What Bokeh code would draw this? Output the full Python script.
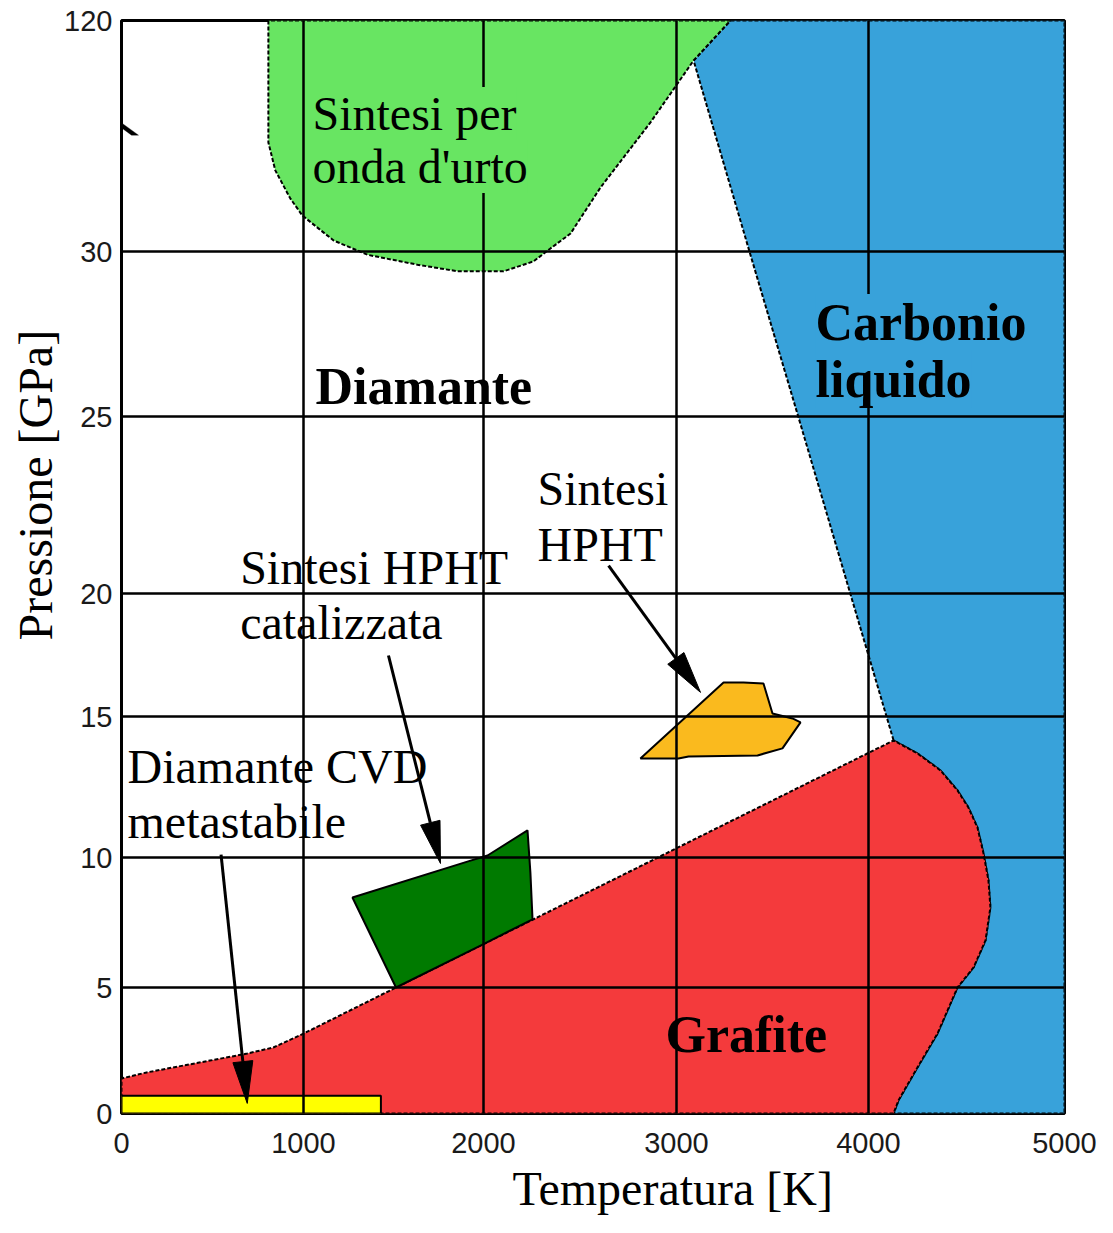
import numpy as np
from bokeh.plotting import figure
from bokeh.models import Range1d, FixedTicker, Title, PolyAnnotation
from bokeh.core.properties import value
from bokeh.embed import file_html
from bokeh.resources import INLINE

# ---------------------------------------------------------------------------
# Axis layout. Neither axis is evenly spaced (the pressure axis jumps from
# 30 to 120 GPa), so each gridline value is tied to a position on the
# 943 x 1093 px frame and everything in between is interpolated.
# ---------------------------------------------------------------------------
T_TICKS = [0, 1000, 2000, 3000, 4000, 5000]          # K
T_SLOTS = [0, 182, 362, 555, 747, 943]
P_TICKS = [0, 5, 10, 15, 20, 25, 30, 120]            # GPa
P_SLOTS = [0, 126, 256, 397, 520, 697, 862, 1093]

def tx(t):
    return np.interp(t, T_TICKS, T_SLOTS)

def py(p):
    return np.interp(p, P_TICKS, P_SLOTS)

# ---------------------------------------------------------------------------
# Phase boundaries (temperature K, pressure GPa)
# ---------------------------------------------------------------------------
# graphite / liquid melting curve, from 0 GPa up to the triple point
melt_T = [4128, 4153, 4250, 4352, 4454, 4536, 4597, 4622, 4612, 4587,
          4556, 4510, 4454, 4367, 4250, 4128]
melt_P = [0.0, 0.52, 1.83, 3.17, 5.0, 5.77, 6.81, 8.08, 9.12, 10.14,
          11.06, 11.77, 12.38, 13.09, 13.69, 14.15]

# diamond / liquid boundary, from the triple point upwards
dl_T = [4128, 4092, 3905, 3634, 3380, 3089]
dl_P = [14.15, 15.0, 20.0, 25.0, 30.0, 104.4]

# graphite / diamond boundary, from the triple point down to 0 K
gd_T = [4128, 4000, 3000, 2904, 2000, 1514, 1000, 834, 691, 486, 138, 0]
gd_P = [14.15, 13.71, 10.33, 10.0, 6.67, 5.0, 3.17, 2.62, 2.38, 2.10, 1.63, 1.39]

# shock-wave synthesis region
shock_T = [807, 807, 845, 928, 994, 1167, 1356, 1633, 1856, 2104, 2259,
           2347, 2451, 2606, 2865, 3089, 3281]
shock_P = [120, 72.5, 61.6, 50.6, 44.0, 34.3, 29.9, 29.6, 29.4, 29.4, 29.7,
           31.2, 37.0, 54.9, 80.3, 104.4, 120]

# catalysed HPHT synthesis region
cat_T = [1272, 1928, 2021, 2228, 2243, 2254, 2000, 1514]
cat_P = [8.46, 9.88, 10.07, 10.96, 9.42, 7.62, 6.67, 5.0]

# HPHT synthesis region
hpht_T = [2813, 3245, 3349, 3453, 3500, 3604, 3646, 3552, 3422, 3063, 3010]
hpht_P = [13.51, 16.38, 16.38, 16.34, 15.12, 14.93, 14.79, 13.87, 13.62, 13.58, 13.51]

# metastable CVD diamond band
cvd_T = [0, 1430]
cvd_P = [0, 0.7]

# callout arrows: tail (T, P) -> tip (T, P)
arrow_tail_T = [2648, 1472, 547]
arrow_tail_P = [20.79, 17.48, 10.1]
arrow_tip_T = [3125, 1761, 691]
arrow_tip_P = [15.98, 9.77, 0.40]

# plot limits
T_MAX = 5000
P_MAX = 120

# ---------------------------------------------------------------------------
# Colours and fonts
# ---------------------------------------------------------------------------
C_LIQUID = "#38A2DA"
C_GRAPHITE = "#F43A3C"
C_SHOCK = "#68E562"
C_CAT = "#007A00"
C_HPHT = "#FABA1E"
C_CVD = "#FFFF00"
SERIF = "Liberation Serif"
TICK_FONT = "Liberation Sans"

W_FRAME = int(tx(T_MAX))
H_FRAME = int(py(P_MAX))

p = figure(width=1113, height=1233, output_backend="svg", toolbar_location=None,
           x_range=Range1d(0, W_FRAME), y_range=Range1d(0, H_FRAME),
           min_border_left=121, min_border_right=49,
           min_border_top=20, min_border_bottom=120,
           background_fill_color="white", border_fill_color="white")

p.outline_line_color = "black"
p.outline_line_width = 3

# gridlines sit above the coloured regions but below labels and arrows
p.xgrid.ticker = FixedTicker(ticks=T_SLOTS)
p.ygrid.ticker = FixedTicker(ticks=P_SLOTS)
for g in (p.xgrid, p.ygrid):
    g.grid_line_color = "black"
    g.grid_line_width = 2.5
    g.grid_line_alpha = 1.0
    g.level = "underlay"

p.xaxis.ticker = FixedTicker(ticks=T_SLOTS)
p.xaxis.major_label_overrides = {s: str(t) for s, t in zip(T_SLOTS, T_TICKS)}
p.yaxis.ticker = FixedTicker(ticks=P_SLOTS)
p.yaxis.major_label_overrides = {s: str(v) for s, v in zip(P_SLOTS, P_TICKS)}
for ax in (p.xaxis, p.yaxis):
    ax.axis_line_color = None
    ax.major_tick_line_color = None
    ax.minor_tick_line_color = None
    ax.major_tick_out = 0
    ax.major_label_text_font = TICK_FONT
    ax.major_label_text_font_size = "29px"
    ax.major_label_text_color = "#1a1a1a"
p.xaxis.major_label_standoff = 19
p.yaxis.major_label_standoff = 9

# axis titles, placed off-centre along their axes
p.add_layout(Title(text="Temperatura [K]", align="left", offset=391,
                   text_font=SERIF, text_font_size="48px", text_font_style="normal",
                   text_color="black", standoff=13, vertical_align="top"), "below")
p.add_layout(Title(text="Pressione [GPa]", align="left", offset=473,
                   text_font=SERIF, text_font_size="48px", text_font_style="normal",
                   text_color="black", standoff=0, vertical_align="bottom"), "left")

# ---------------------------------------------------------------------------
# Phase regions
# ---------------------------------------------------------------------------
liq_T = [3281, T_MAX, T_MAX] + melt_T + dl_T[1:]
liq_P = [P_MAX, P_MAX, 0] + melt_P + dl_P[1:]
p.patch(tx(liq_T), py(liq_P), fill_color=C_LIQUID, line_color="black",
        line_width=2, line_dash="4 2", level="image")

gra_T = [0] + melt_T + gd_T[1:]
gra_P = [0] + melt_P + gd_P[1:]
p.patch(tx(gra_T), py(gra_P), fill_color=C_GRAPHITE, line_color="black",
        line_width=2, line_dash="4 2", level="image")

p.patch(tx(shock_T), py(shock_P), fill_color=C_SHOCK, line_color="black",
        line_width=2, line_dash="4 2", level="image")

p.quad(left=tx(cvd_T[0]), right=tx(cvd_T[1]), bottom=py(cvd_P[0]), top=py(cvd_P[1]),
       fill_color=C_CVD, line_color="black", line_width=2, level="image")

p.patch(tx(cat_T), py(cat_P), fill_color=C_CAT, line_color="black",
        line_width=2, level="image")
p.patch(tx(hpht_T), py(hpht_P), fill_color=C_HPHT, line_color="black",
        line_width=2, level="image")

# ---------------------------------------------------------------------------
# Callout arrows (long, narrow filled heads)
# ---------------------------------------------------------------------------
HEAD_LEN, HEAD_HALF = 42, 10
for t0, p0, t1, p1 in zip(arrow_tail_T, arrow_tail_P, arrow_tip_T, arrow_tip_P):
    x0, y0, x1, y1 = tx(t0), py(p0), tx(t1), py(p1)
    d = np.hypot(x1 - x0, y1 - y0)
    ux, uy = (x1 - x0) / d, (y1 - y0) / d
    bx, by = x1 - ux * HEAD_LEN, y1 - uy * HEAD_LEN
    p.line([x0, bx], [y0, by], line_color="black", line_width=3)
    p.patch([x1, bx - uy * HEAD_HALF, bx + uy * HEAD_HALF],
            [y1, by + ux * HEAD_HALF, by - ux * HEAD_HALF],
            fill_color="black", line_color="black", line_width=1)

# ---------------------------------------------------------------------------
# Region labels (anchored at the left end of each line's baseline)
# ---------------------------------------------------------------------------
def label(txt, t, pr, bold=False, bg=None):
    kw = dict(text_font=value(SERIF), text_font_size="52px" if bold else "48px",
              text_font_style="bold" if bold else "normal", text_color="black",
              text_align="left", text_baseline="alphabetic", y_offset=-17)
    if bg is not None:
        kw.update(background_fill_color=bg, padding=0)
    p.text(x=[float(tx(t))], y=[float(py(pr))], text=[txt], **kw)

label("Sintesi per", 1050, 77.1, bg=C_SHOCK)
label("onda d'urto", 1050, 56.5, bg=C_SHOCK)
label("Diamante", 1067, 25.39, bold=True)
label("Carbonio", 3724, 27.33, bold=True, bg=C_LIQUID)
label("liquido", 3724, 25.61, bold=True, bg=C_LIQUID)
label("Sintesi", 2280, 22.49)
label("HPHT", 2280, 20.90)
label("Sintesi HPHT", 652, 20.25)
label("catalizzata", 652, 18.13)
label("Diamante CVD", 33, 12.62)
label("metastabile", 33, 10.67)
label("Grafite", 2943, 2.46, bold=True)

# break mark on the pressure axis between 30 and 120 GPa
yb = float(py(80))
p.add_layout(PolyAnnotation(xs=[-23, -16, 17, 10], ys=[yb + 12, yb + 12, yb - 12, yb - 12],
                            fill_color="black", fill_alpha=1.0, line_color="black",
                            line_width=1))

open("out.html", "w").write(file_html(p, INLINE))
